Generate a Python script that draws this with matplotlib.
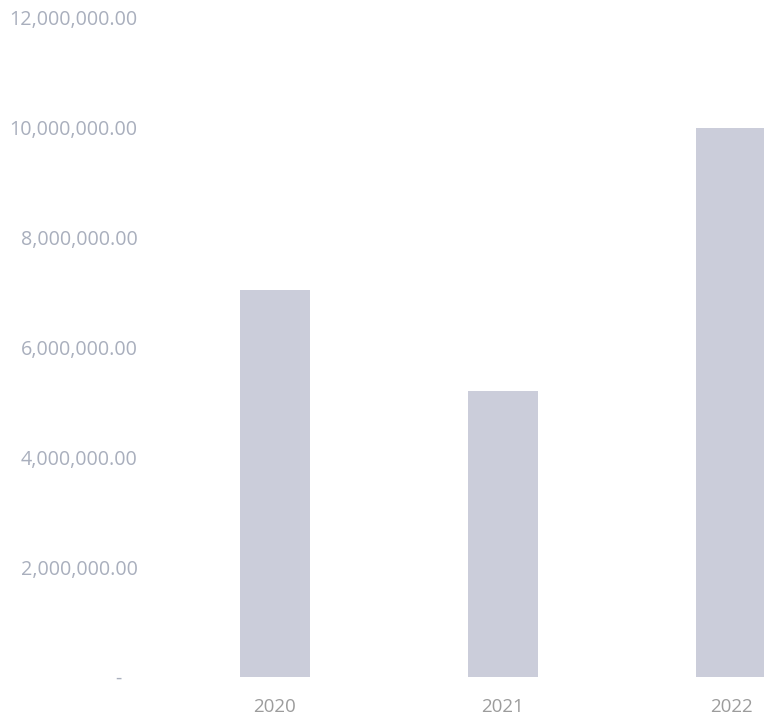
import matplotlib
matplotlib.use('Agg')
import matplotlib.pyplot as plt
from matplotlib.ticker import FuncFormatter

years = ['2020', '2021', '2022']
amounts = [7050000, 5200000, 10000000]
y_ticks = [0, 2000000, 4000000, 6000000, 8000000, 10000000, 12000000]

bar_color = '#cbcdda'
label_color = '#a9afbd'

plt.rcParams['font.family'] = ['Open Sans', 'DejaVu Sans']

fig = plt.figure(figsize=(7.64, 7.26), dpi=100)
ax = fig.add_axes([161 / 764, 49 / 726, 684 / 764, 659 / 726])

x = range(len(years))
ax.bar(x, amounts, width=0.31, color=bar_color)

ax.set_xlim(-0.5, len(years) - 0.5)
ax.set_ylim(0, 12000000)
ax.set_xticks(list(x))
ax.set_xticklabels(years)
ax.set_yticks(y_ticks)


def acct(v, pos):
    # accounting style: zero shown as a dash
    if v == 0:
        return '-   '
    return '{:,.2f}'.format(v)


ax.yaxis.set_major_formatter(FuncFormatter(acct))

for s in ax.spines.values():
    s.set_visible(False)
ax.tick_params(axis='x', length=0, labelsize=13.5, pad=15, labelcolor='#9c9c9c')
ax.tick_params(axis='y', length=0, labelsize=14.2, pad=17, labelcolor=label_color)

plt.savefig('out.png', dpi=100)
plt.close()
